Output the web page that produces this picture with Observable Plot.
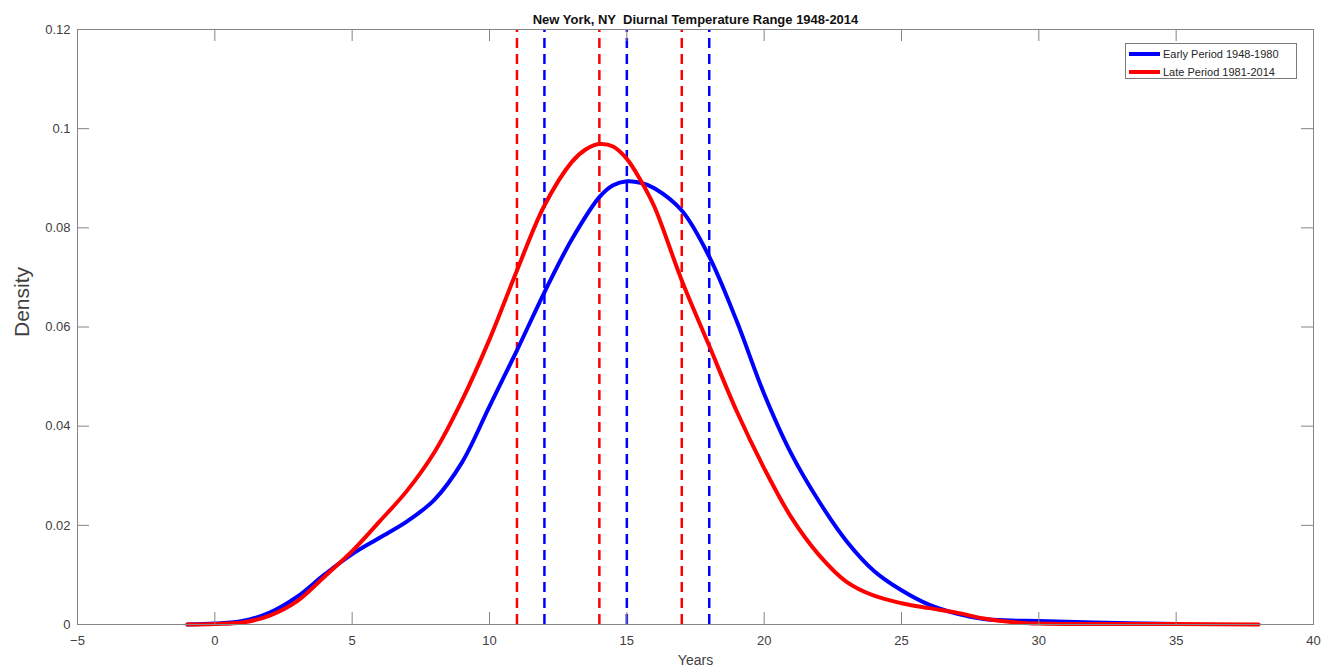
<!DOCTYPE html>
<html><head><meta charset="utf-8">
<script src="https://cdn.jsdelivr.net/npm/d3@7"></script>
<script src="https://cdn.jsdelivr.net/npm/@observablehq/plot@0.6"></script>
<style>
body{margin:0;background:#fff;font-family:"Liberation Sans",Arial,sans-serif;}
#wrap{position:relative;width:1331px;height:668px;}
#legend{position:absolute;left:1125px;top:43px;width:172px;height:36px;border:1px solid #7a7a7a;background:#fff;font-size:11px;color:#262626;box-sizing:border-box;}
.item{position:absolute;left:3px;height:14px;display:flex;align-items:center;white-space:nowrap;}
.sw{width:31px;height:4px;margin-right:3px;}
</style></head>
<body><div id="wrap"><div id="legend">
<div class="item" style="top:3px"><div class="sw" style="background:#0000ff"></div>Early Period 1948-1980</div>
<div class="item" style="top:21px"><div class="sw" style="background:#ff0000"></div>Late Period 1981-2014</div>
</div></div>
<script>
const earlyX = [-1,0,1,2,3,4,5,6,7,8,9,10,11,12,13,14,14.5,15,15.5,16,17,18,19,20,21,22,23,24,25,26,27,28,29,30,32,35];
const earlyY = [0,0.0002,0.0007,0.0024,0.0056,0.0101,0.0142,0.0175,0.0208,0.0252,0.0327,0.0440,0.0553,0.0670,0.0777,0.0862,0.0886,0.0894,0.0891,0.0880,0.0835,0.0742,0.0612,0.0465,0.0343,0.0248,0.0168,0.0108,0.0069,0.0040,0.0022,0.0011,0.0008,0.0007,0.0004,0.0001];
const lateX = [-1,0,1,2,3,4,5,6,7,8,9,10,11,12,13,13.5,14,14.5,15,15.5,16,17,18,19,20,21,22,23,24,25,26,27,28,29,30,32,35,38];
const lateY = [0,0.0001,0.0004,0.0018,0.0047,0.0097,0.0148,0.0208,0.0270,0.0348,0.0452,0.0575,0.0714,0.0845,0.0933,0.0958,0.0969,0.0964,0.0939,0.0896,0.0843,0.0694,0.0562,0.0430,0.0315,0.0215,0.0140,0.0086,0.0058,0.0043,0.0033,0.0024,0.0012,0.0005,0.0002,0.0001,0.0001,0];
const earlyMarks = [12, 15, 18];
const lateMarks = [11, 14, 17];
const xTicks = [-5,0,5,10,15,20,25,30,35,40];
const yTicks = [0,0.02,0.04,0.06,0.08,0.1,0.12];
const yTickLabels = ["0","0.02","0.04","0.06","0.08","0.1","0.12"];
const title = "New York, NY  Diurnal Temperature Range 1948-2014";
const xLabel = "Years";
const yLabel = "Density";

const early = earlyX.map((x,i)=>({x, y: earlyY[i]}));
const late = lateX.map((x,i)=>({x, y: lateY[i]}));

const W = 1331, H = 668, mL = 77, mR = 18, mT = 29, mB = 44;
const xDom = [-5, 40], yDom = [0, 0.12];
const tx = (xDom[1]-xDom[0]) * 12 / (W - mL - mR);
const ty = (yDom[1]-yDom[0]) * 12 / (H - mT - mB);
const gray = "#858585";
const font = "Liberation Sans, Arial, sans-serif";

const chart = Plot.plot({
  width: W, height: H,
  marginLeft: mL, marginRight: mR, marginTop: mT, marginBottom: mB,
  style: {fontFamily: font, background: "#fff"},
  x: {domain: xDom},
  y: {domain: yDom},
  marks: [
    Plot.ruleX(lateMarks, {x: d=>d, y1: yDom[0], y2: yDom[1], stroke: "#ff0000", strokeWidth: 2.5, strokeDasharray: "10,6"}),
    Plot.ruleX(earlyMarks, {x: d=>d, y1: yDom[0], y2: yDom[1], stroke: "#0000ff", strokeWidth: 2.5, strokeDasharray: "10,6"}),
    Plot.line(early, {x: "x", y: "y", stroke: "#0000ff", strokeWidth: 4, curve: "catmull-rom"}),
    Plot.line(late, {x: "x", y: "y", stroke: "#ff0000", strokeWidth: 4, curve: "catmull-rom"}),
    Plot.frame({stroke: gray, strokeWidth: 1}),
    Plot.ruleX(xTicks, {x: d=>d, y1: yDom[0], y2: yDom[0]+ty, stroke: gray}),
    Plot.ruleX(xTicks, {x: d=>d, y1: yDom[1]-ty, y2: yDom[1], stroke: gray}),
    Plot.ruleY(yTicks, {y: d=>d, x1: xDom[0], x2: xDom[0]+tx, stroke: gray}),
    Plot.ruleY(yTicks, {y: d=>d, x1: xDom[1]-tx, x2: xDom[1], stroke: gray}),
    Plot.axisX({ticks: xTicks, tickSize: 0, tickPadding: 11, fontSize: 13, label: null, color: "#404040"}),
    Plot.axisY({ticks: yTicks, tickSize: 0, tickPadding: 7, fontSize: 13, label: null, color: "#404040", tickFormat: d => yTickLabels[yTicks.indexOf(d)]}),
    Plot.text([xLabel], {frameAnchor: "bottom", dy: 36, lineAnchor: "middle", fontSize: 14, fill: "#404040"}),
    Plot.text([yLabel], {frameAnchor: "left", dx: -55, dy: 10, rotate: -90, fontSize: 21, fill: "#404040", fontFamily: "Liberation Sans Narrow, Liberation Sans, Arial, sans-serif"}),
    Plot.text([title], {frameAnchor: "top", dy: -6, lineAnchor: "bottom", fontSize: 13, fontWeight: "bold", fill: "#111"})
  ]
});
document.getElementById("wrap").prepend(chart);
</script>
</body></html>
